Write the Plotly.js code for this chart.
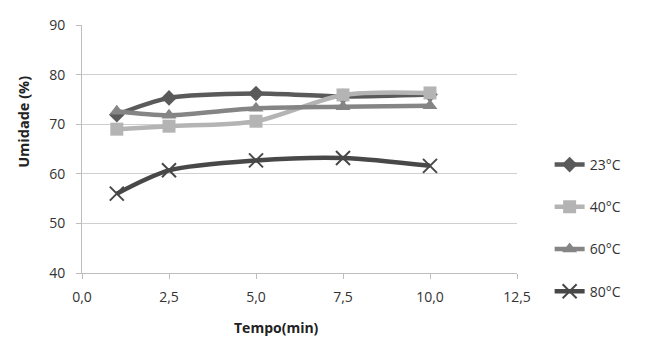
<!DOCTYPE html>
<html><head><meta charset="utf-8">
<script src="https://cdn.plot.ly/plotly-3.0.1.min.js"></script>
<style>html,body{margin:0;padding:0;background:#fff}#c{width:646px;height:356px}</style>
</head><body><div id="c"></div>
<script>
const tempo = [1, 2.5, 5, 7.5, 10];
const u23 = [71.9, 75.3, 76.2, 75.6, 76.0];
const u40 = [69.0, 69.6, 70.6, 75.9, 76.3];
const u60 = [72.6, 71.8, 73.2, 73.5, 73.7];
const u80 = [56.0, 60.7, 62.7, 63.2, 61.6];
const names = ['23°C', '40°C', '60°C', '80°C'];
const xTicks = [0, 2.5, 5, 7.5, 10, 12.5];
const xTickText = ['0,0', '2,5', '5,0', '7,5', '10,0', '12,5'];
const yTicks = [40, 50, 60, 70, 80, 90];

function tr(y, name, color, symbol, size, lw) {
  return {
    x: tempo, y: y, name: name, type: 'scatter', mode: 'lines+markers',
    line: {color: color, width: 4.5, shape: 'spline', smoothing: 0.8},
    marker: {symbol: symbol, size: size, color: color, line: {color: color, width: lw}},
    legendgroup: name
  };
}
const data = [
  tr(u23, names[0], '#5a5a5a', 'diamond', 12, 0),
  tr(u40, names[1], '#b4b4b4', 'square', 13, 0),
  tr(u60, names[2], '#858585', 'triangle-up', 13, 0),
  tr(u80, names[3], '#484848', 'x-thin', 14, 2)
];
const layout = {
  width: 646, height: 356,
  margin: {l: 82, r: 129, t: 25, b: 83},
  paper_bgcolor: '#fff', plot_bgcolor: '#fff',
  font: {family: 'Open Sans, Liberation Sans, sans-serif', color: '#333', size: 14},
  showlegend: true,
  legend: {x: 1.075, xanchor: 'left', y: 0.5, yanchor: 'top', tracegroupgap: 21,
           font: {size: 14, color: '#333'}, itemwidth: 30, bgcolor: 'rgba(0,0,0,0)'},
  xaxis: {range: [0, 12.5], tickvals: xTicks, ticktext: xTickText, showgrid: false,
          showline: true, linecolor: '#bdbdbd', linewidth: 1, ticks: 'outside', ticklen: 5,
          tickcolor: '#bdbdbd', zeroline: false, ticklabelstandoff: 6, tickfont: {size: 14, color: '#333'}},
  yaxis: {range: [40, 90], tickvals: yTicks, showgrid: true, gridcolor: '#cfcfcf', gridwidth: 1,
          showline: true, linecolor: '#bdbdbd', linewidth: 1, ticks: 'outside', ticklen: 5,
          tickcolor: '#bdbdbd', zeroline: false, ticklabelstandoff: 8, tickfont: {size: 14, color: '#333'}},
  annotations: [
    {text: '<b>Tempo(min)</b>', xref: 'paper', yref: 'paper', x: 0.447, y: -0.175, xanchor: 'center', yanchor: 'top',
     showarrow: false, font: {size: 14, color: '#222'}},
    {text: '<b>Umidade (%)</b>', xref: 'paper', yref: 'paper', x: -0.133, y: 0.61, xanchor: 'center', yanchor: 'middle',
     textangle: -90, showarrow: false, font: {size: 14.5, color: '#222'}}
  ]
};
Plotly.newPlot('c', data, layout, {displayModeBar: false, staticPlot: true});
</script></body></html>
